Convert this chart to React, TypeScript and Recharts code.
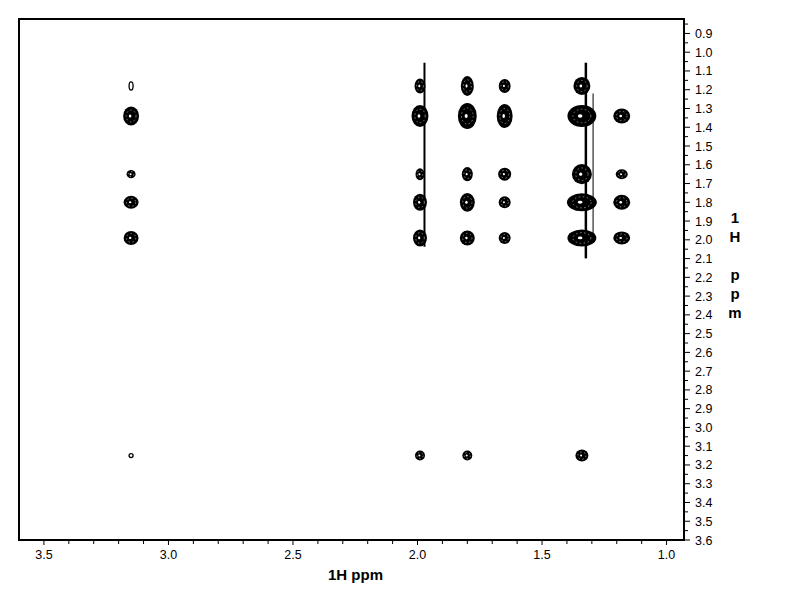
import React from 'react';
import { ScatterChart, Scatter, XAxis, YAxis, ReferenceArea, ReferenceLine } from 'recharts';

// Axis ranges (ppm)
const F2_MIN = 0.93;
const F2_MAX = 3.6;
const F1_MIN = 0.823;
const F1_MAX = 3.6;

// Cross / diagonal peaks: F2 (horizontal) shift, F1 (vertical) shift, widths in ppm
const peakF2 = [
  3.15, 3.15, 3.15, 3.15, 3.15, 3.15,
  1.99, 1.99, 1.99, 1.99, 1.99, 1.99,
  1.80, 1.80, 1.80, 1.80, 1.80, 1.80,
  1.65, 1.65, 1.65, 1.65, 1.65,
  1.34, 1.34, 1.34, 1.34, 1.34, 1.34,
  1.18, 1.18, 1.18, 1.18,
];
const peakF1 = [
  1.18, 1.34, 1.65, 1.80, 1.99, 3.15,
  1.18, 1.34, 1.65, 1.80, 1.99, 3.15,
  1.18, 1.34, 1.65, 1.80, 1.99, 3.15,
  1.18, 1.34, 1.65, 1.80, 1.99,
  1.18, 1.34, 1.65, 1.80, 1.99, 3.15,
  1.34, 1.65, 1.80, 1.99,
];
const peakWidthF2 = [
  0.016, 0.064, 0.036, 0.060, 0.060, 0.016,
  0.044, 0.068, 0.036, 0.056, 0.056, 0.040,
  0.052, 0.076, 0.044, 0.060, 0.060, 0.040,
  0.048, 0.064, 0.052, 0.048, 0.048,
  0.068, 0.116, 0.080, 0.120, 0.116, 0.052,
  0.068, 0.048, 0.068, 0.068,
];
const peakWidthF1 = [
  0.043, 0.101, 0.043, 0.069, 0.075, 0.021,
  0.080, 0.117, 0.064, 0.091, 0.091, 0.053,
  0.107, 0.138, 0.075, 0.100, 0.080, 0.053,
  0.075, 0.128, 0.069, 0.064, 0.064,
  0.096, 0.117, 0.107, 0.096, 0.091, 0.064,
  0.080, 0.053, 0.080, 0.069,
];

// t1-noise streaks
const streakF2 = [1.972, 1.324, 1.295];
const streakF1Start = [1.056, 1.056, 1.22];
const streakF1End = [2.037, 2.099, 1.98];
const streakWeight = [2, 2.5, 1];

// Ticks
const xMajorTicks = [3.5, 3.0, 2.5, 2.0, 1.5, 1.0];
const xTickLabels = ['3.5', '3.0', '2.5', '2.0', '1.5', '1.0'];
const xAllTicks = [3.5, 3.4, 3.3, 3.2, 3.1, 3.0, 2.9, 2.8, 2.7, 2.6, 2.5, 2.4, 2.3, 2.2, 2.1, 2.0, 1.9, 1.8, 1.7, 1.6, 1.5, 1.4, 1.3, 1.2, 1.1, 1.0];
const yMajorTicks = [0.9, 1.0, 1.1, 1.2, 1.3, 1.4, 1.5, 1.6, 1.7, 1.8, 1.9, 2.0, 2.1, 2.2, 2.3, 2.4, 2.5, 2.6, 2.7, 2.8, 2.9, 3.0, 3.1, 3.2, 3.3, 3.4, 3.5, 3.6];
const yTickLabels = ['0.9', '1.0', '1.1', '1.2', '1.3', '1.4', '1.5', '1.6', '1.7', '1.8', '1.9', '2.0', '2.1', '2.2', '2.3', '2.4', '2.5', '2.6', '2.7', '2.8', '2.9', '3.0', '3.1', '3.2', '3.3', '3.4', '3.5', '3.6'];
const yMinorTicks = [0.85, 0.95, 1.05, 1.15, 1.25, 1.35, 1.45, 1.55, 1.65, 1.75, 1.85, 1.95, 2.05, 2.15, 2.25, 2.35, 2.45, 2.55, 2.65, 2.75, 2.85, 2.95, 3.05, 3.15, 3.25, 3.35, 3.45, 3.55];

const axisTitle = '1H ppm';
const axisTitleChars = ['1', 'H', '', 'p', 'p', 'm'];

// Layout
const W = 784;
const H = 604;
const M_TOP = 11;
const M_LEFT = 11;
const Y_AXIS_W = 60;
const X_AXIS_H = 40;
const PLOT_W = 665;
const PLOT_H = 521;
const M_RIGHT = W - M_LEFT - PLOT_W - Y_AXIS_W;
const M_BOTTOM = H - M_TOP - PLOT_H - X_AXIS_H;
const PX_X = PLOT_W / (F2_MAX - F2_MIN);
const PX_Y = PLOT_H / (F1_MAX - F1_MIN);

const FONT = "'Liberation Sans', Arial, sans-serif";

const peaks = peakF2.map((x, i) => ({ x, y: peakF1[i], wx: peakWidthF2[i], wy: peakWidthF1[i] }));

const Peak = (props: any) => {
  const { cx, cy, payload } = props;
  if (cx == null || cy == null || !payload) return null;
  const rx = (payload.wx * PX_X) / 2;
  const ry = (payload.wy * PX_Y) / 2;
  if (rx < 3 || ry < 3) {
    return <ellipse cx={cx} cy={cy} rx={Math.max(rx, 1.5)} ry={Math.max(ry, 1.5)} fill="#fff" stroke="#000" strokeWidth={1.3} />;
  }
  return (
    <g>
      <ellipse cx={cx} cy={cy} rx={rx} ry={ry} fill="#000" />
      <ellipse cx={cx} cy={cy} rx={rx * 0.62} ry={ry * 0.62} fill="none" stroke="#fff" strokeWidth={0.5} strokeDasharray="1.5 2.5" />
      <ellipse cx={cx - rx * 0.12} cy={cy} rx={Math.max(rx * 0.16, 1)} ry={Math.max(ry * 0.16, 1)} fill="#fff" />
    </g>
  );
};

const XTick = (props: any) => {
  const { x, y, payload } = props;
  const v = payload.value;
  const idx = xMajorTicks.findIndex((m) => Math.abs(m - v) < 1e-6);
  const major = idx >= 0;
  return (
    <g>
      <line x1={x} x2={x} y1={y + 1} y2={y + (major ? 5 : 4)} stroke="#000" strokeWidth={1} />
      {major && (
        <text x={x} y={y + 19} textAnchor="middle" fontSize={12.5} fontFamily={FONT} fill="#000">
          {xTickLabels[idx]}
        </text>
      )}
    </g>
  );
};

const YTick = (props: any) => {
  const { x, y, payload } = props;
  const v = payload.value;
  const idx = yMajorTicks.findIndex((m) => Math.abs(m - v) < 1e-6);
  const major = idx >= 0;
  return (
    <g>
      <line x1={x + 1} x2={x + (major ? 6 : 4)} y1={y} y2={y} stroke="#000" strokeWidth={1} />
      {major && (
        <text x={x + 11} y={y + 4.5} textAnchor="start" fontSize={12.5} fontFamily={FONT} fill="#000">
          {yTickLabels[idx]}
        </text>
      )}
    </g>
  );
};

const XTitle = (props: any) => {
  const vb = props.viewBox || { x: M_LEFT, y: M_TOP + PLOT_H, width: PLOT_W, height: X_AXIS_H };
  return (
    <text x={vb.x + vb.width / 2 + 4} y={vb.y + 40} textAnchor="middle" fontSize={15} fontWeight="bold" fontFamily={FONT} fill="#000">
      {axisTitle}
    </text>
  );
};

const YTitle = (props: any) => {
  const vb = props.viewBox || { x: M_LEFT + PLOT_W, y: M_TOP, width: Y_AXIS_W, height: PLOT_H };
  return (
    <g>
      {axisTitleChars.map((c, i) => (
        <text key={i} x={vb.x + 51} y={M_TOP + 204 + i * 19} textAnchor="middle" fontSize={15} fontWeight="bold" fontFamily={FONT} fill="#000">
          {c}
        </text>
      ))}
    </g>
  );
};

const yAllTicks = [...yMinorTicks, ...yMajorTicks].sort((a, b) => a - b);

export default function App() {
  return (
    <div style={{ width: W, height: H, background: '#fff' }}>
      <ScatterChart width={W} height={H} margin={{ top: M_TOP, left: M_LEFT, right: M_RIGHT, bottom: M_BOTTOM }}>
        <XAxis
          type="number"
          dataKey="x"
          domain={[F2_MIN, F2_MAX]}
          reversed
          allowDataOverflow
          ticks={xAllTicks}
          interval={0}
          tickSize={0}
          tickMargin={0}
          tickLine={false}
          axisLine={false}
          tick={<XTick />}
          height={X_AXIS_H}
          label={(p: any) => <XTitle {...p} />}
        />
        <YAxis
          type="number"
          dataKey="y"
          orientation="right"
          domain={[F1_MIN, F1_MAX]}
          reversed
          allowDataOverflow
          ticks={yAllTicks}
          interval={0}
          tickSize={0}
          tickMargin={0}
          tickLine={false}
          axisLine={false}
          tick={<YTick />}
          width={Y_AXIS_W}
          label={(p: any) => <YTitle {...p} />}
        />
        <ReferenceArea x1={F2_MAX} x2={F2_MIN} y1={F1_MIN} y2={F1_MAX} fill="none" stroke="#000" strokeWidth={2} ifOverflow="visible" />
        {streakF2.map((sx, i) => (
          <ReferenceLine
            key={i}
            segment={[{ x: sx, y: streakF1Start[i] }, { x: sx, y: streakF1End[i] }]}
            stroke="#000"
            strokeWidth={streakWeight[i]}
          />
        ))}
        <Scatter data={peaks} isAnimationActive={false} shape={(p: any) => <Peak {...p} />} />
      </ScatterChart>
    </div>
  );
}
